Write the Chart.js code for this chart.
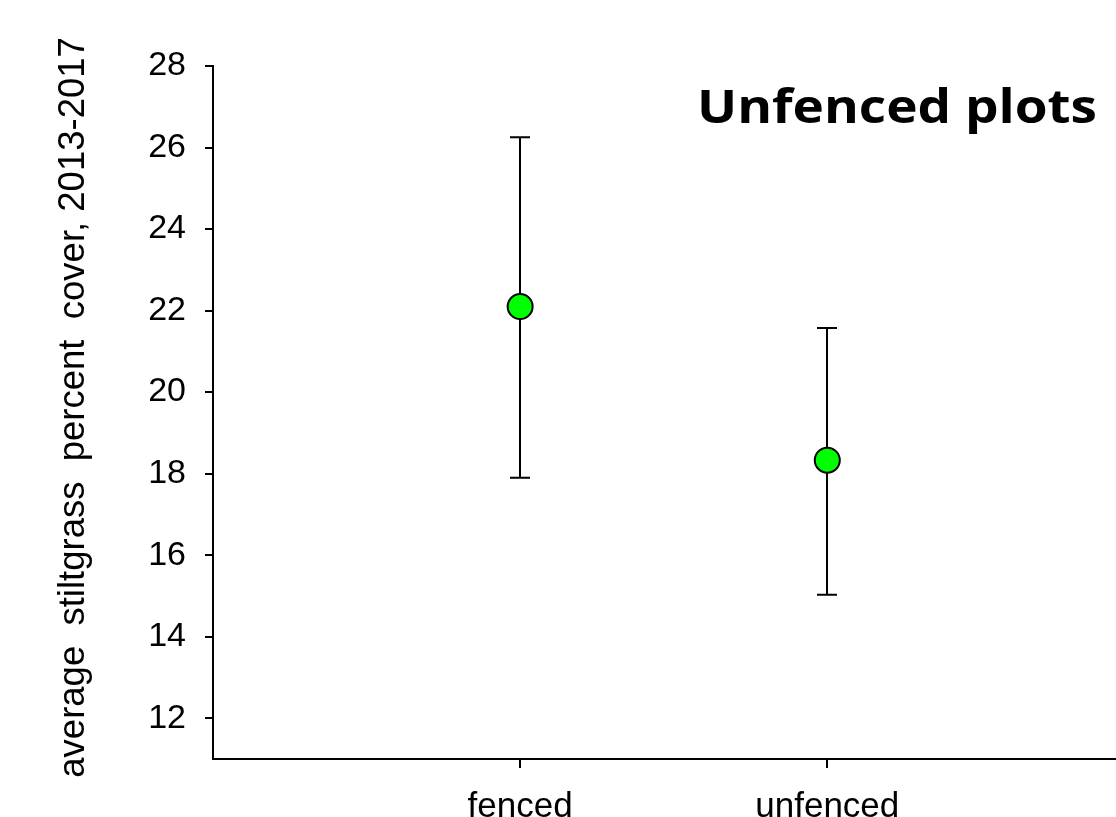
<!DOCTYPE html>
<html>
<head>
	<title>Stiltgrass cover</title>
	<script src="https://cdn.jsdelivr.net/npm/chart.js"></script>
	<style>
		html, body { margin: 0; padding: 0; background: #fff; overflow: hidden; }
		canvas { display: block; }
	</style>
</head>
<body>
	<canvas id="canvas" width="1116" height="817"></canvas>

	<script>
		// values
		const categories = ['fenced', 'unfenced']
		const means = [22.1, 18.33]
		const lower = [17.9, 15.03]
		const upper = [26.25, 21.57]
		const yTicks = [12, 14, 16, 18, 20, 22, 24, 26, 28]
		const titleText = 'Unfenced plots'

		const points = categories.map((c, i) => ({ x: i + 1, y: means[i] }))

		// error bars + title drawn using the chart's scales
		const errorBars = {
			id: 'errorBars',
			beforeDatasetsDraw(chart) {
				const ctx = chart.ctx
				const xs = chart.scales.x, ys = chart.scales.y
				ctx.save()
				ctx.strokeStyle = '#000'
				ctx.lineWidth = 2
				categories.forEach((c, i) => {
					const px = Math.round(xs.getPixelForValue(i + 1))
					const top = ys.getPixelForValue(upper[i])
					const bot = ys.getPixelForValue(lower[i])
					ctx.beginPath()
					ctx.moveTo(px, top); ctx.lineTo(px, bot)
					ctx.moveTo(px - 10, top); ctx.lineTo(px + 10, top)
					ctx.moveTo(px - 10, bot); ctx.lineTo(px + 10, bot)
					ctx.stroke()
				})
				ctx.restore()
			},
			afterDraw(chart) {
				const ctx = chart.ctx
				ctx.save()
				ctx.fillStyle = '#000'
				ctx.font = '700 47px "Open Sans"'
				ctx.textBaseline = 'alphabetic'
				// stretch to the width seen in the picture
				const w = ctx.measureText(titleText).width
				ctx.translate(697, 123)
				ctx.scale(400 / w, 1)
				ctx.fillText(titleText, 0, 0)
				ctx.restore()
			}
		}

		function draw() {
			const canvas = document.querySelector('#canvas')
			new Chart(canvas.getContext('2d'), {
				type: 'scatter',
				data: {
					datasets: [{
						data: points,
						backgroundColor: '#00ff00',
						borderColor: '#000',
						borderWidth: 2,
						pointRadius: 12.5,
						pointHoverRadius: 12.5
					}]
				},
				options: {
					responsive: false,
					animation: false,
					layout: { autoPadding: false, padding: { top: 66, right: 0, left: 52, bottom: 0 } },
					plugins: {
						legend: { display: false },
						tooltip: { enabled: false }
					},
					scales: {
						x: {
							type: 'linear',
							min: 0,
							max: 2.94,
							afterBuildTicks: (axis) => { axis.ticks = categories.map((c, i) => ({ value: i + 1 })) },
							afterFit: (axis) => { axis.height = 58; axis.paddingLeft = 0; axis.paddingRight = 0 },
							ticks: {
								callback: (v) => categories[v - 1],
								color: '#000',
								font: { family: 'Liberation Sans', size: 35 },
								padding: 18,
								maxRotation: 0
							},
							grid: { drawOnChartArea: false, drawTicks: true, tickLength: 9, color: '#000', lineWidth: 2 },
							border: { color: '#000', width: 2 }
						},
						y: {
							min: 11,
							max: 28,
							afterBuildTicks: (axis) => { axis.ticks = yTicks.map(v => ({ value: v })) },
							afterFit: (axis) => { axis.width = 161 },
							ticks: {
								color: '#000',
								font: { family: 'Liberation Sans', size: 34 },
								padding: 19
							},
							grid: { drawOnChartArea: false, drawTicks: true, tickLength: 8, color: '#000', lineWidth: 2 },
							border: { color: '#000', width: 2 },
							title: {
								display: true,
								text: ' average  stiltgrass  percent  cover, 2013-2017',
								color: '#000',
								font: { family: 'Liberation Sans', size: 36.5 },
								padding: { top: 0, bottom: 0 }
							}
						}
					}
				},
				plugins: [errorBars]
			})
		}

		document.fonts.load('700 47px "Open Sans"').then(draw, draw)
	</script>
</body>
</html>
